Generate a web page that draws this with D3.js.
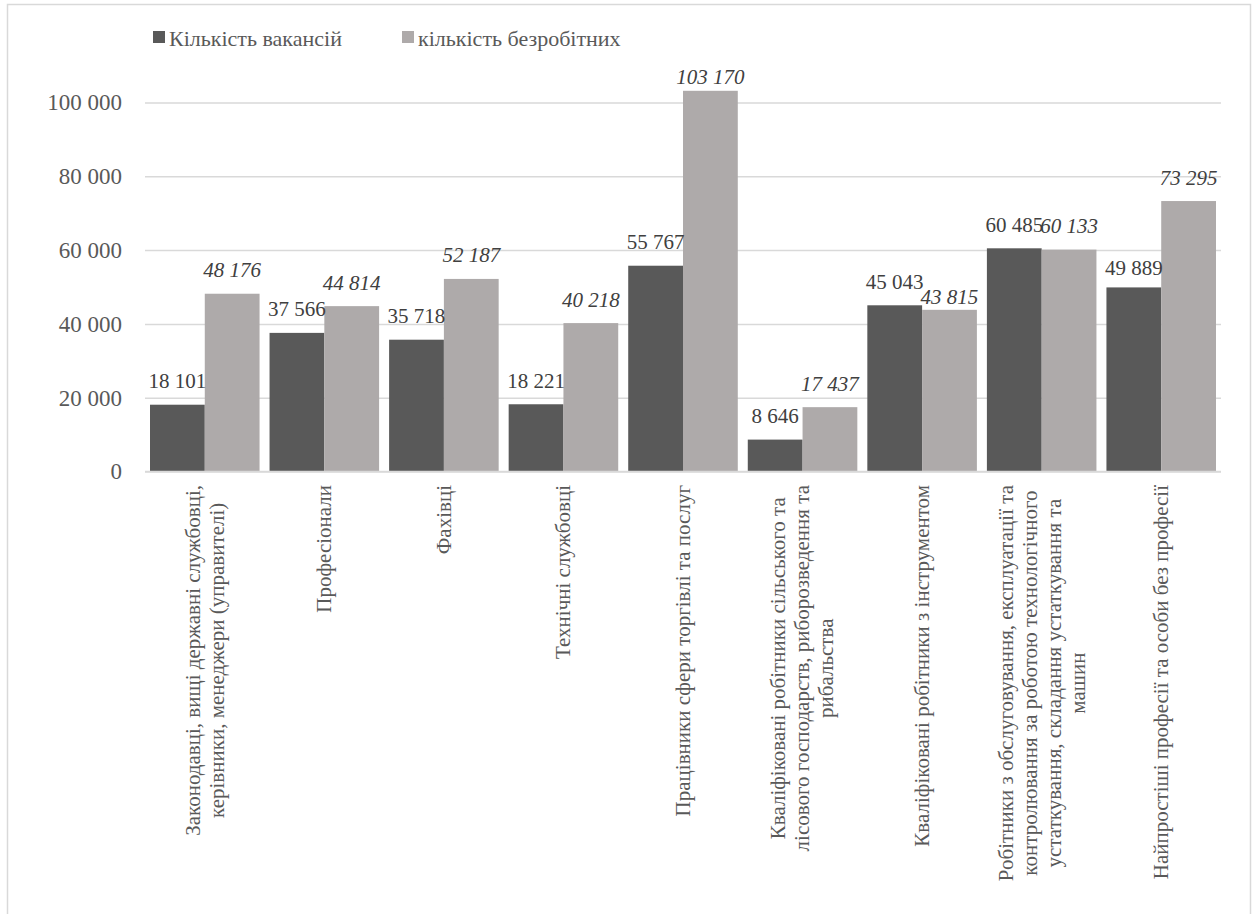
<!DOCTYPE html>
<html>
<head>
<meta charset="utf-8">
<script src="https://cdn.jsdelivr.net/npm/d3@7"></script>
<style>
  html, body { margin: 0; padding: 0; background: #fff; }
  svg { display: block; }
  svg text { font-family: "Times New Roman", "Liberation Serif", Tinos, "DejaVu Serif", "Noto Serif", serif; }
</style>
</head>
<body>
<svg id="chart" width="1256" height="914"></svg>
<script>
// ---------- data ----------
const categories = [
  "Законодавці, вищі державні службовці, керівники, менеджери (управителі)",
  "Професіонали",
  "Фахівці",
  "Технічні службовці",
  "Працівники сфери торгівлі та послуг",
  "Кваліфіковані робітники сільського та лісового господарств, риборозведення та рибальства",
  "Кваліфіковані робітники з інструментом",
  "Робітники з обслуговування, експлуатації та контролювання за роботою технологічного устаткування, складання устаткування та машин",
  "Найпростіші професії та особи без професії"
];
const categoryLines = [
  ["Законодавці, вищі державні службовці,", "керівники, менеджери (управителі)"],
  ["Професіонали"],
  ["Фахівці"],
  ["Технічні службовці"],
  ["Працівники сфери торгівлі та послуг"],
  ["Кваліфіковані робітники сільського та", "лісового господарств, риборозведення та", "рибальства"],
  ["Кваліфіковані робітники з інструментом"],
  ["Робітники з обслуговування, експлуатації та", "контролювання за роботою технологічного", "устаткування, складання устаткування та", "машин"],
  ["Найпростіші професії та особи без професії"]
];
const seriesNames = ["Кількість вакансій", "кількість безробітних"];
const vacancies  = [18101, 37566, 35718, 18221, 55767, 8646, 45043, 60485, 49889];
const unemployed = [48176, 44814, 52187, 40218, 103170, 17437, 43815, 60133, 73295];
const yTicks = [0, 20000, 40000, 60000, 80000, 100000];

// ---------- layout ----------
const plot = { left: 145, right: 1221, top: 102.5, bottom: 471.5 };
const colors = ["#595959", "#AEAAAA"];
const labelGap = 16.5;
const labelNudge = { "4-1": 6.5, "6-1": 6, "8-0": 12 }; // labels moved by hand in the original

const svg = d3.select("#chart");
const fmt = d3.formatLocale({ decimal: ",", thousands: " ", grouping: [3], currency: ["", ""] }).format(",d");

// frame
svg.append("rect")
  .attr("x", 7.5).attr("y", 4.5).attr("width", 1243).attr("height", 940)
  .attr("fill", "none").attr("stroke", "#D9D9D9").attr("stroke-width", 1.5);

const y = d3.scaleLinear().domain([0, 100000]).range([plot.bottom, plot.top]);
const x0 = d3.scaleBand().domain(categories).range([plot.left, plot.right]).padding(0);
const x1 = d3.scaleBand().domain([0, 1]).range([5, x0.bandwidth() - 5]).padding(0);

// y axis with gridlines
const yAxis = svg.append("g")
  .attr("transform", `translate(${plot.left},0)`)
  .call(d3.axisLeft(y).tickValues(yTicks).tickFormat(fmt)
        .tickSize(-(plot.right - plot.left)).tickPadding(23));
yAxis.attr("font-family", null).attr("font-size", null);
yAxis.select(".domain").remove();
yAxis.selectAll(".tick line").attr("stroke", "#D9D9D9").attr("stroke-width", 1.5);
yAxis.selectAll(".tick text").attr("fill", "#595959").style("font-size", "23px");

// bars
const series = [vacancies, unemployed];
const rows = categories.map((c, i) => ({ c, i, vals: series.map(s => s[i]) }));

const groups = svg.append("g").selectAll("g").data(rows).join("g")
  .attr("transform", d => `translate(${x0(d.c)},0)`);

groups.selectAll("rect").data(d => d.vals.map((v, k) => ({ v, k, i: d.i }))).join("rect")
  .attr("x", d => x1(d.k))
  .attr("width", x1.bandwidth())
  .attr("y", d => y(d.v))
  .attr("height", d => y(0) - y(d.v))
  .attr("fill", d => colors[d.k]);

groups.selectAll("text.val").data(d => d.vals.map((v, k) => ({ v, k, i: d.i }))).join("text")
  .attr("class", "val")
  .attr("x", d => x1(d.k) + x1.bandwidth() / 2)
  .attr("y", d => y(d.v) - (labelNudge[d.i + "-" + d.k] ?? labelGap))
  .attr("text-anchor", "middle")
  .attr("fill", "#404040")
  .style("font-size", "21px")
  .style("font-style", d => d.k === 1 ? "italic" : "normal")
  .text(d => fmt(d.v));

// baseline
svg.append("line")
  .attr("x1", plot.left).attr("x2", plot.right)
  .attr("y1", y(0)).attr("y2", y(0))
  .attr("stroke", "#D9D9D9").attr("stroke-width", 1.5);

// category labels (rotated, top-anchored block, centred lines)
const lh = 24, labelTop = 485, catFont = 21;
categories.forEach((c, i) => {
  const lines = categoryLines[i];
  const cx = x0(c) + x0.bandwidth() / 2;
  const g = svg.append("g").attr("transform", `translate(${cx},${labelTop}) rotate(-90)`);
  const texts = lines.map((t, j) => g.append("text")
    .attr("text-anchor", "middle")
    .attr("fill", "#595959")
    .style("font-size", catFont + "px")
    .attr("y", (j - (lines.length - 1) / 2) * lh + catFont * 0.33)
    .text(t));
  const maxLen = d3.max(texts, t => t.node().getComputedTextLength());
  texts.forEach(t => t.attr("x", -maxLen / 2));
});

// legend
const legendItems = [
  { name: seriesNames[0], color: colors[0], x: 153 },
  { name: seriesNames[1], color: colors[1], x: 402 }
];
const lg = svg.append("g");
legendItems.forEach(it => {
  lg.append("rect").attr("x", it.x).attr("y", 31).attr("width", 12).attr("height", 12).attr("fill", it.color);
  lg.append("text").attr("x", it.x + 16).attr("y", 46)
    .attr("fill", "#595959").style("font-size", "22px").text(it.name);
});
</script>
</body>
</html>
